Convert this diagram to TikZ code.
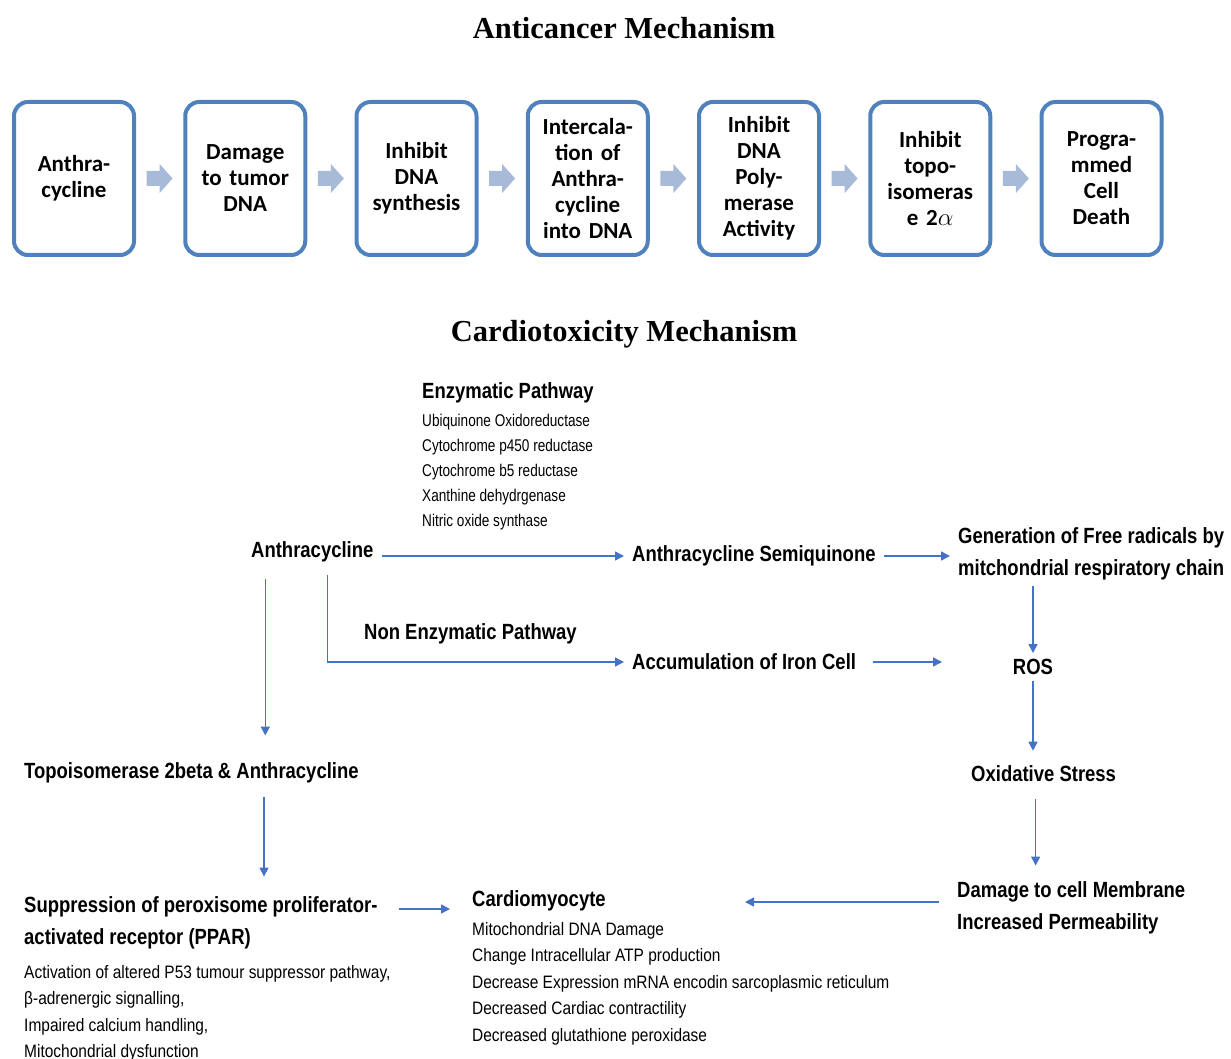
\documentclass[tikz,border=0pt]{standalone}
\usepackage{fontspec}
\setmainfont{Liberation Serif}
\newfontfamily\boxfont{Carlito}
\newfontfamily\labelfont[FakeStretch=0.84]{Liberation Sans}
\newfontfamily\enzfont[FakeStretch=0.80]{Liberation Sans}
\newfontfamily\listfont[FakeStretch=0.86]{Liberation Sans}
\usetikzlibrary{arrows.meta,calc}
\definecolor{boxblue}{RGB}{79, 129, 189}
\definecolor{chevblue}{RGB}{167, 187, 216}
\definecolor{flowblue}{RGB}{68, 114, 196}
\newcommand{\chevron}[2]{%
  \fill[chevblue] ($(#1.east)!0.5!(#2.west)$) ++(-13,-7.5) -- ++(13,0) -- ++(0,-7) -- ++(13,14.5) -- ++(-13,14.5) -- ++(0,-7) -- ++(-13,0) -- cycle;}

\begin{document}
\begin{tikzpicture}[x=1pt, y=-1pt,
    title/.style={font=\bfseries\fontsize{30.5}{36}\selectfont},
    mechbox/.style={draw=boxblue, line width=4pt, rounded corners=14pt, minimum width=120pt, minimum height=153pt,
                    text width=116pt, align=center, inner sep=0pt, font=\boxfont\bfseries\fontsize{23}{26}\selectfont},
    lbl/.style={anchor=west, yshift=-2pt, inner xsep=8pt, inner ysep=6pt, align=left, font=\labelfont\bfseries\fontsize{22}{32}\selectfont},
    enzlist/.style={anchor=west, yshift=-2pt, inner sep=0pt, align=left, font=\enzfont\fontsize{17}{25}\selectfont},
    sublist/.style={anchor=west, inner sep=0pt, align=left, font=\listfont\fontsize{18}{26.5}\selectfont},
    flow/.style={draw=flowblue, line width=1.5pt, -{Triangle[length=9pt,width=9pt]}}]
            \useasboundingbox (0,0) rectangle (1231,1059);
            % Anticancer
            \node[title] (anticancer) at (624,28) {Anticancer Mechanism};
            \node[mechbox] (b1) at (  74.00,178.5) {Anthra-\\cycline};
            \node[mechbox] (b2) at ( 245.25,178.5) {Damage\\to tumor\\DNA};
            \node[mechbox] (b3) at ( 416.50,178.5) {Inhibit\\DNA\\synthesis};
            \node[mechbox] (b4) at ( 587.75,178.5) {Intercala-\\tion of\\Anthra-\\cycline\\into DNA};
            \node[mechbox] (b5) at ( 759.00,178.5) {Inhibit\\DNA\\Poly-\\merase\\Activity};
            \node[mechbox] (b6) at ( 930.25,178.5) {Inhibit\\topo-\\isomeras\\e 2$\alpha$};
            \node[mechbox] (b7) at (1101.50,178.5) {Progra-\\mmed\\Cell\\Death};
            \chevron{b1}{b2}
            \chevron{b2}{b3}
            \chevron{b3}{b4}
            \chevron{b4}{b5}
            \chevron{b5}{b6}
            \chevron{b6}{b7}
            % Cardiotoxicity
            \node[title] (cardiotox) at (624,334) {Cardiotoxicity Mechanism};
            \node[lbl] (enz) at (414,391) {Enzymatic Pathway};
            \node[enzlist] (enzlist) at (422,470) {Ubiquinone Oxidoreductase\\Cytochrome p450 reductase\\Cytochrome b5 reductase\\Xanthine dehydrgenase\\Nitric oxide synthase};
            \node[lbl] (anth) at (243,550) {Anthracycline};
            \node[lbl] (semi) at (624,554) {Anthracycline Semiquinone};
            \node[lbl] (gen) at (950,552) {Generation of Free radicals by\\mitchondrial respiratory chain};
            \node[lbl] (nonenz) at (356,632) {Non Enzymatic Pathway};
            \node[lbl] (iron) at (624,660) {Accumulation of Iron Cell};
            \node[lbl, anchor=center] (ros) at (1033,665) {ROS};
            \node[lbl] (topo) at (16,771) {Topoisomerase 2beta \& Anthracycline};
            \node[lbl] (oxi) at (963,772) {Oxidative Stress};
            \node[lbl] (ppar) at (16,921) {Suppression of peroxisome proliferator-\\activated receptor (PPAR)};
            \node[sublist] (pparlist) at (24,1013.5) {Activation of altered P53 tumour suppressor pathway,\\β-adrenergic signalling,\\Impaired calcium handling,\\Mitochondrial dysfunction};
            \node[lbl] (cardio) at (464,899) {Cardiomyocyte};
            \node[sublist] (cardiolist) at (472,983.5) {Mitochondrial DNA Damage\\Change Intracellular ATP production\\Decrease Expression mRNA encodin sarcoplasmic reticulum\\Decreased Cardiac contractility\\Decreased glutathione peroxidase};
            \node[lbl] (dmg) at (949,906) {Damage to cell Membrane\\Increased Permeability};
            \coordinate (cardioend) at (745,902);
            % Arrows
            \draw[flow] (anth.east |- semi.west) -- (semi.west);
            \draw[flow] (semi.east) -- (semi.east -| gen.west);
            \draw[flow, shorten <=7pt] ([xshift=15pt]anth.south) |- (iron.west);
            \draw[flow] ([xshift=9pt]iron.east) -- ([xshift=-8pt]iron.east -| gen.west);
            \draw[flow] (gen.south -| ros.north) -- (ros.north);
            \draw[flow, shorten >=9pt] (ros.south) -- (ros.south |- oxi.north);
            \draw[flow, shorten <=11pt, shorten >=10pt] ([xshift=-8pt]oxi.south) -- ([xshift=-8pt]oxi.south |- dmg.north);
            \draw[flow] ([xshift=-10pt]dmg.west |- cardioend) -- (cardioend);
            \draw[flow, shorten <=11pt, shorten >=21pt] ([xshift=-47pt]anth.south) -- ([xshift=-47pt]anth.south |- topo.north);
            \draw[flow, shorten <=8pt, shorten >=14pt] ([xshift=248pt]topo.south west) -- ([xshift=248pt]topo.south west |- ppar.north);
            \draw[flow] ([xshift=13pt,yshift=14pt]ppar.east) -- ([xshift=-14pt,yshift=14pt]ppar.east -| cardio.west);
\end{tikzpicture}
\end{document}
